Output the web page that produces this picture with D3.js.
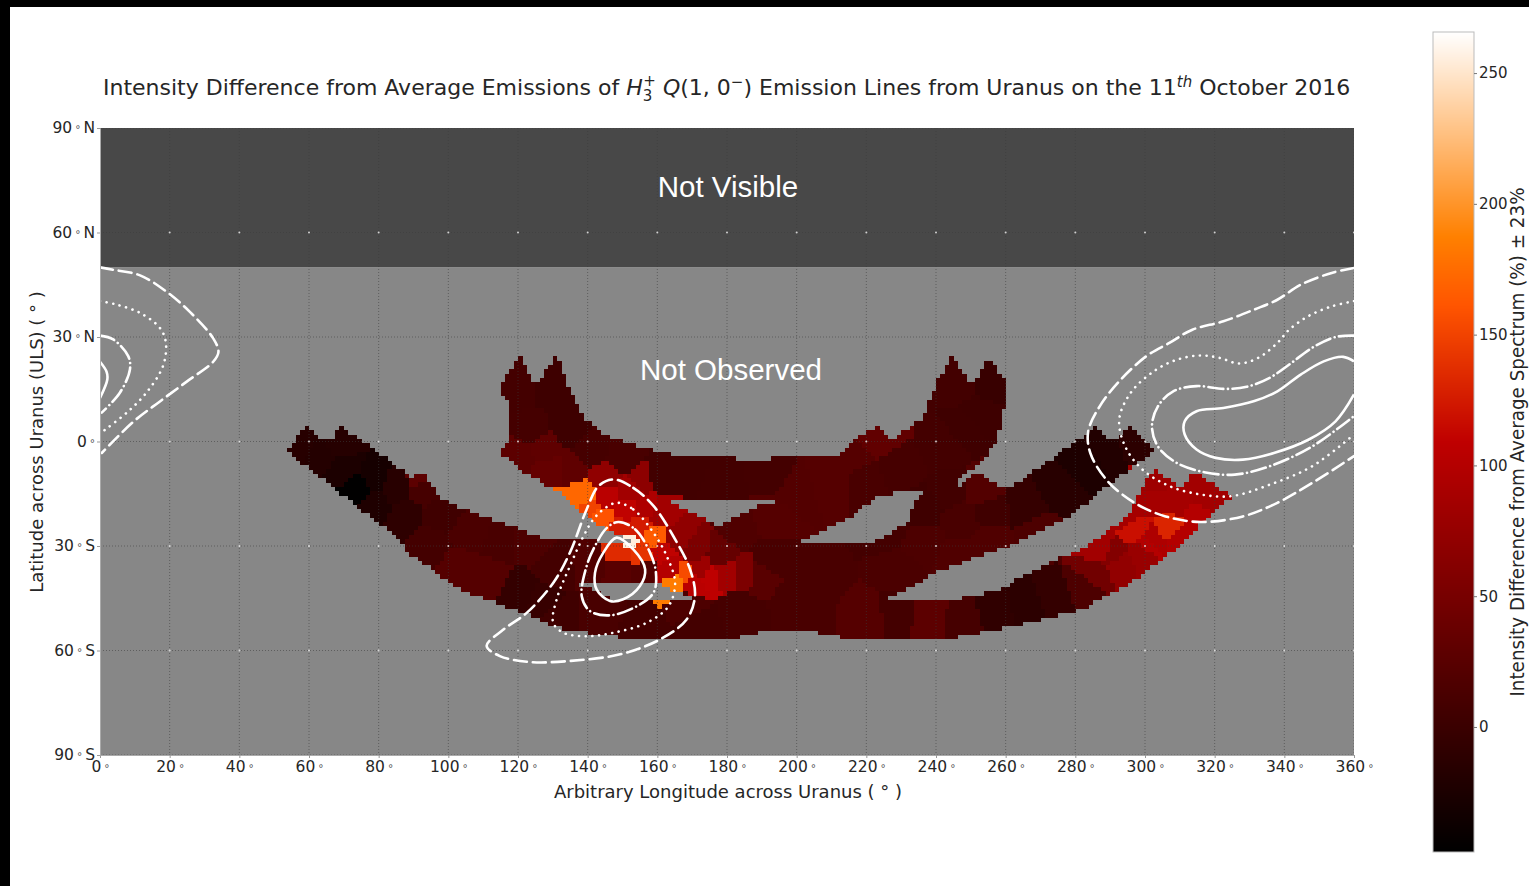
<!DOCTYPE html>
<html><head><meta charset="utf-8">
<script src="https://cdn.jsdelivr.net/npm/d3@7"></script>
<style>html,body{margin:0;padding:0;background:#fff;overflow:hidden}svg{display:block}</style>
</head><body><svg id="c" width="1529" height="886"></svg>
<script>
// ---------- data (longitude deg, latitude deg, value %) ----------
const lonTicks = d3.range(0, 361, 20);
const latTicks = [90, 60, 30, 0, -30, -60, -90];
const barTicks = [0, 50, 100, 150, 200, 250];
const valueDomain = [-47.8, 265.7];
const visibleLimit = 50;

const observedOutline = [[53.7,-2.9],[58.9,4.3],[63.7,.9],[66.6,.9],[68.9,4.3],[77.5,-1.4],[89.6,-10.3],[92.7,-8.6],[97.6,-16.7],[111.1,-21.8],[128.3,-28.1],[153,-29],[144.4,-24.7],[138.7,-20.4],[133.5,-15.8],[120.6,-8],[114.8,-2.9],[117.4,-.3],[116.9,12.6],[115.4,12.9],[115.4,16.9],[117.1,19.2],[120.6,24.7],[124.9,15.8],[131.2,24.7],[135.5,12.9],[139.2,6.3],[146.4,1.1],[163.6,-3.7],[179.4,-4.6],[189.5,-5.5],[195.5,-4.3],[211.7,-4.3],[216.7,.6],[223.4,4.3],[227,.6],[236,6.3],[241,18.7],[244.6,24.4],[250.3,15.8],[254.9,24.4],[260.3,16.4],[259.9,12.6],[257.6,.6],[253.7,-5.2],[246,-10.9],[247,-12.9],[251.7,-8.6],[258.3,-13.2],[261.6,-13.2],[281.6,1.1],[285.9,4.3],[289.2,.6],[291.9,.6],[296.1,4.3],[302.4,-2.9],[291.5,-10.9],[278.2,-21.5],[260.3,-30.1],[240.3,-37.3],[231.6,-42.5],[225.1,-45.4],[245,-45.4],[258.3,-42.5],[268.2,-36.8],[281.6,-31],[287.4,-27.3],[295.1,-21.5],[298.5,-14.6],[301.8,-8.9],[303.2,-8.6],[310.1,-13.2],[314.1,-8.6],[324.8,-15.8],[315.8,-23.3],[309.8,-30.1],[300.2,-37.3],[292.6,-42.5],[281.6,-48.2],[260.3,-53.4],[246,-56.3],[212.8,-56.3],[205.1,-54.5],[189.5,-54.5],[183.7,-56.3],[150.2,-56.3],[132.9,-54],[121.4,-49.1],[103.4,-42.5],[88.4,-31.9],[85.3,-27.3],[77.5,-21.5],[68,-13.8]];
const gapSlit = [[137,-40.8],[160.2,-40.8],[170.3,-44.8],[169.4,-45.4],[148,-45.4]];
const gapUpper = [[162.2,-16.4],[193.2,-16.4],[193.2,-18],[189.5,-18.3],[183.7,-20.9],[177.1,-24.4]];
const gapCentre = [[200.5,-29],[221.7,-29.3],[231.8,-23.3],[234.3,-16.7],[236.7,-13.8],[222.7,-15.5],[216.1,-21.5],[206.1,-26.1]];

const readings = [
[57.4,-.9,-16],[63.2,-3.7,-18],[68.9,-.9,-17],[70.3,-8,-25],[74.1,-12.9,-47],[78,-10.9,-30],[79,-18,-22],[84.7,-13.8,-15],[87.6,-21,-10],[93.3,-13.8,10],[92.7,-10.3,28],[97.6,-21,5],[94.7,-29.6,8],[106.2,-26.7,14],[103.4,-35.3,22],[112,-38.2,22],[114.8,-29.6,12],[123.5,-29.6,15],[120.6,-42.5,-5],[127.8,-45.4,-3],[130.6,-36.8,8],[140.7,-35.3,18],[132,-49.7,5],[143.6,-49.7,12],[149.3,-36.8,25],[156.5,-36.8,20],[155,-53.4,8],[172.3,-52.5,8],[169.4,-46.8,15],[183.7,-48.2,10],[199.5,-45.4,12],[192.9,-33.9,12],[206,-39.6,12],[202.8,-51.1,12],[219.4,-51.1,22],[229.5,-49.7,8],[237.7,-51.1,28],[247.6,-52.5,10],[257.6,-49.7,-8],[265.9,-48.2,-12],[274.3,-45.4,-5],[282.6,-42.5,15],[285.8,-38.2,45],[292.6,-35.3,72],[299.2,-32.4,78],[290.8,-32.4,60],[302.5,-28.1,95],[309.2,-28.1,100],
[306.8,-25.3,132],[297.5,-25.3,118],[300.9,-29.6,100],[287.6,-31,85],[309.2,-16.7,88],[302.5,-16.7,88],[317.5,-16.7,85],[302.4,-11,82],[314,-12.3,85],[295.1,-21,88],[315.8,-21,100],
[296,.6,-12],[289.2,-2.3,-20],[282.6,-6.6,-24],[275.8,-13.8,-15],[265.9,-19.5,-4],[255.9,-21,5],[252.6,-13.8,20],[247.6,-22.4,12],[255.9,-28,18],[236,-29.6,15],[229.5,-36.8,14],[246,-33.9,18],[269,-25.3,15],
[223.4,1.4,32],[216.1,-5.2,22],[209.4,-10.9,22],[199.5,-13.8,20],[192.9,-22.4,22],[183.7,-25.3,18],[219.4,-10.9,12],[229.5,-8,10],[242.6,-2.3,8],[244.3,-13.8,6],[236,-19.5,4],[226,-25.3,8],
[252.6,6.3,3],[246,17.8,7],[255.9,17.8,-2],[249.4,3.4,4],
[178,-10.9,7],[192.9,-9.5,8],[160.8,-9.5,6],[169.4,-8,6],
[120.6,14.9,8],[130.6,14.9,3],[123.5,3.4,9],[135,3.4,3],[140.7,-2.3,10],[150.8,-5.2,12],
[120.6,-3.7,28],[129.2,-8,35],[135,-8,30],[127.8,-2.3,30],
[135.5,-16.7,172],[138.7,-15.8,172],[143.6,-21.8,160],[140.7,-19.5,150],[145,-10.9,70],[145.6,-15.8,105],[152.2,-13.8,85],[155,-10.9,68],[150.8,-19.5,110],[155,-23.8,125],[159.4,-27.6,165],[156.5,-19.5,95],[160.8,-21,85],[149.6,-25.3,125],[150.7,-28.4,255],[149.3,-31.6,135],[155,-32.4,140],[161.4,-31.6,110],[166.5,-28.1,70],[170.8,-31,55],[163.6,-36.8,100],[168,-38.2,155],[165.1,-40.5,185],[170.8,-41,105],[175.1,-39,108],[179.4,-38.2,85],[185.2,-38.2,55],[178,-32.4,35],[189.5,-38.8,25],[172.3,-36.8,80]
];

const dashedNorthEast = [[360,49.8],[353.6,48.4],[344.7,45],[338,40.7],[331.4,37.9],[322.5,34.5],[313.6,32.1],[307,28.3],[300.4,24.5],[292.6,17.3],[287,10.1],[283.7,2.9],[284.3,-3.3],[289.3,-11.4],[297,-17.6],[305.9,-21.5],[315.9,-23.1],[328.1,-21.5],[338,-17.6],[348,-11.9],[360,-4.2]];
const dottedNorthEast = [[360,40.3],[353.6,38.8],[346.9,36],[341.4,32.1],[338,28.3],[332.5,24],[327,22.4],[321.4,24],[315.9,24.7],[309.2,23.5],[302.6,20.2],[295.9,14],[292.6,6.3],[294.3,-1.4],[299.2,-8],[307,-12.8],[315.9,-15.2],[324.7,-15.7],[335.8,-12.4],[348,-7.1],[360,2]];
const dashDotNorthEast = [[360,30.4],[354.7,30],[348,26.9],[341.4,22.1],[335.8,18.3],[329.2,15.7],[322.5,15.1],[314.8,15.9],[308.1,14.4],[303.7,10.1],[302,4.4],[303.7,-1.4],[309.2,-6.2],[317,-8.8],[325.8,-9.5],[335.8,-7.1],[348,-1.4],[360,7.3]];
const solidNorthEast = [[360,23],[356.9,24.3],[351.3,23],[344.7,19.2],[338,14.4],[331.4,11.6],[322.5,9.6],[314.8,8.7],[311.4,5.8],[311.4,2],[314.8,-2.3],[320.3,-4.7],[328.1,-5.2],[337,-3.3],[346.9,.5],[354.7,5.8],[360,13.5]];
const dashedNorthWest = [[0,50],[3.8,49.3],[11.5,47.7],[19.1,43],[25.8,37.2],[32.5,29.6],[34,25.7],[32.5,22.9],[24.9,17.2],[17.2,11.5],[9.6,5.7],[.5,-3.3]];
const dottedNorthWest = [[0,40.3],[4.8,39.3],[11.5,36.9],[17.2,32.6],[18.9,28.4],[18.1,21.7],[13.3,14],[7.7,8.3],[.96,3]];
const dashDotNorthWest = [[0,30.4],[3.8,29.3],[8.1,24.5],[8.6,20.7],[5.7,14],[.5,8.3]];
const solidNorthWest = [[0,22.9],[1.9,20],[2.1,17.8],[0,12.5]];
const dashedSouth = [[147.4,-10.9],[153.1,-13.3],[158.9,-18.5],[164.6,-27.2],[169.4,-36.7],[170.8,-44.4],[168.4,-51.1],[160.8,-56.8],[149.3,-61.1],[134.9,-63],[123.4,-63.3],[114.8,-61.6],[111,-58.7],[115.8,-54],[122.5,-49.2],[130.1,-40.6],[134.9,-31.9],[139.7,-19.5],[143.1,-12.8]];
const dottedSouth = [[148.3,-17.6],[153.1,-19.5],[158.9,-26.2],[162.7,-32.9],[165.1,-40.6],[163.2,-47.3],[157,-52],[147.4,-54.9],[139.7,-55.9],[133,-54.9],[130.1,-52],[131.1,-45.3],[134.9,-35.8],[138.8,-27.2],[141.6,-22.4],[144.5,-19.5]];
const dashDotSouth = [[148.8,-23.1],[153.6,-25.2],[157.9,-31.9],[159.6,-37.7],[158.9,-43.4],[154.1,-47.3],[146.4,-49.9],[140.7,-48.7],[138.3,-44.4],[139.7,-35.8],[142.1,-30],[145.5,-24.8]];
const solidSouth = [[148.3,-27.6],[153.1,-31],[156.5,-36.7],[155,-41.5],[150.2,-45.3],[146.4,-45.8],[142.6,-42.5],[142.1,-37.7],[144.5,-31.9]];

// ---------- drawing ----------
const svg = d3.select('#c');
const FONT = '"DejaVu Sans", sans-serif';
const x = d3.scaleLinear().domain([0, 360]).range([100, 1354]);
const y = d3.scaleLinear().domain([90, -90]).range([128, 755]);
const [vMin, vMax] = valueDomain, vSpan = vMax - vMin;
// gist_heat style ramp
const color = d3.scaleLinear()
  .domain([0, .5, 2/3, .75, 1].map(t => vMin + t * vSpan))
  .range(['#000000', '#bf0000', '#ff5500', '#ff8000', '#ffffff'])
  .clamp(true);

svg.append('rect').attr('width', 1529).attr('height', 7).attr('fill', '#000');
svg.append('rect').attr('width', 10).attr('height', 886).attr('fill', '#000');

svg.append('defs').append('clipPath').attr('id', 'plot').append('rect')
  .attr('x', x(0)).attr('y', y(90)).attr('width', x(360) - x(0)).attr('height', y(-90) - y(90));

svg.append('rect').attr('x', x(0)).attr('y', y(visibleLimit)).attr('width', x(360) - x(0)).attr('height', y(-90) - y(visibleLimit)).attr('fill', '#878787');
svg.append('rect').attr('x', x(0)).attr('y', y(90)).attr('width', x(360) - x(0)).attr('height', y(visibleLimit) - y(90)).attr('fill', '#484848');

// raster cells, nearest reading wins
const cell = 1.25;
const del = d3.Delaunay.from(readings, d => d[0], d => d[1]);
const cells = [];
let last = 0;
for (let lon = 50; lon < 330; lon += cell) for (let lat = 27; lat > -60; lat -= cell) {
  const p = [lon + cell / 2, lat - cell / 2];
  if (!d3.polygonContains(observedOutline, p)) continue;
  if (d3.polygonContains(gapSlit, p) || d3.polygonContains(gapUpper, p) || d3.polygonContains(gapCentre, p)) continue;
  last = del.find(p[0], p[1], last);
  cells.push({lon, lat, v: readings[last][2]});
}
svg.append('g').attr('shape-rendering', 'crispEdges').selectAll('rect').data(cells).join('rect')
  .attr('x', d => x(d.lon)).attr('y', d => y(d.lat))
  .attr('width', x(cell) - x(0) + .3).attr('height', y(0) - y(cell) + .3)
  .attr('fill', d => color(d.v));

// grid
const grid = svg.append('g').attr('clip-path', 'url(#plot)');
grid.selectAll('.gx').data(lonTicks).join('line').attr('class', 'gx').attr('x1', d => x(d)).attr('x2', d => x(d)).attr('y1', y(90)).attr('y2', y(-90));
grid.selectAll('.gy').data(latTicks).join('line').attr('class', 'gy').attr('x1', x(0)).attr('x2', x(360)).attr('y1', d => y(d)).attr('y2', d => y(d));
grid.selectAll('line').attr('stroke', '#3c3c3c').attr('stroke-opacity', .55).attr('stroke-width', 1).attr('stroke-dasharray', '1,2');
const crossings = lonTicks.flatMap(lon => [60, 0, -30, -60].map(lat => [lon, lat]));
grid.selectAll('circle').data(crossings).join('circle').attr('cx', d => x(d[0])).attr('cy', d => y(d[1])).attr('r', 1)
  .attr('fill', '#fff').attr('fill-opacity', .75);

// contours
const lineOpen = d3.line().x(d => x(d[0])).y(d => y(d[1])).curve(d3.curveCatmullRom);
const lineClosed = d3.line().x(d => x(d[0])).y(d => y(d[1])).curve(d3.curveCatmullRomClosed);
const styles = {dashed: '13,6', dotted: '.1,6.6', dashDot: '15,4.5,.1,4.5', solid: null};
const contours = [
  [dashedNorthEast, 'dashed', lineOpen], [dottedNorthEast, 'dotted', lineOpen], [dashDotNorthEast, 'dashDot', lineOpen], [solidNorthEast, 'solid', lineOpen],
  [dashedNorthWest, 'dashed', lineOpen], [dottedNorthWest, 'dotted', lineOpen], [dashDotNorthWest, 'dashDot', lineOpen], [solidNorthWest, 'solid', lineOpen],
  [dashedSouth, 'dashed', lineClosed], [dottedSouth, 'dotted', lineClosed], [dashDotSouth, 'dashDot', lineClosed], [solidSouth, 'solid', lineClosed]
];
svg.append('g').attr('clip-path', 'url(#plot)').selectAll('path').data(contours).join('path')
  .attr('d', d => d[2](d[0])).attr('fill', 'none').attr('stroke', '#fff').attr('stroke-width', 2.6)
  .attr('stroke-linecap', d => d[1] === 'solid' ? 'butt' : 'round')
  .attr('stroke-dasharray', d => styles[d[1]]);

// axes: number, small ring, optional hemisphere letter
const latLabel = d => d === 0 ? '0|' : `${Math.abs(d)}|${d > 0 ? 'N' : 'S'}`;
const gx = svg.append('g').attr('transform', `translate(0,${y(-90)})`).call(d3.axisBottom(x).tickValues(lonTicks).tickSize(3).tickPadding(3).tickFormat(d => `${d}|`));
const gy = svg.append('g').attr('transform', `translate(${x(0)},0)`).call(d3.axisLeft(y).tickValues(latTicks).tickSize(3).tickPadding(2).tickFormat(latLabel));
[gx, gy].forEach(g => {
  g.select('.domain').attr('stroke', '#aaa').attr('stroke-width', 1);
  g.selectAll('.tick line').attr('stroke', '#999');
  g.selectAll('text').attr('fill', '#262626').attr('font-family', FONT).attr('font-size', 15.5).each(function () {
    const [num, letter] = d3.select(this).text().split('|');
    const t = d3.select(this).text(num);
    t.append('tspan').attr('dx', 3).attr('font-size', 10.5).attr('fill', '#555').text('°');
    if (letter) t.append('tspan').attr('dx', 3).text(letter);
  });
});

// texts
const T = (tx, ty, s, size, anchor = 'middle', fam = FONT, fill = '#262626') =>
  svg.append('text').attr('x', tx).attr('y', ty).attr('font-family', fam).attr('font-size', size).attr('text-anchor', anchor).attr('fill', fill).text(s);
T(728, 798, 'Arbitrary Longitude across Uranus ( ° )', 18);
T(0, 0, 'Latitude across Uranus (ULS) ( ° )', 18).attr('transform', 'translate(43,442) rotate(-90)');
T(728, 197, 'Not Visible', 29.5, 'middle', '"Liberation Sans", sans-serif', '#fff');
T(731, 380, 'Not Observed', 29.5, 'middle', '"Liberation Sans", sans-serif', '#fff');

// title with math
const title = svg.append('text').attr('x', 103).attr('y', 95).attr('font-family', FONT).attr('font-size', 22).attr('fill', '#262626');
const ts = (s, o = {}) => { const t = title.append('tspan').text(s); Object.entries(o).forEach(([k, v]) => t.attr(k, v)); };
ts('Intensity Difference from Average Emissions of ');
ts('H', {'font-style': 'italic'});
ts('3', {'font-size': 15, dy: 6, 'font-style': 'normal'});
ts('+', {'font-size': 15, dy: -15, dx: -9});
ts(' ', {dy: 9});
ts('Q', {'font-style': 'italic'});
ts('(1, 0');
ts('−', {'font-size': 15, dy: -8});
ts(')', {dy: 8});
ts(' Emission Lines from Uranus on the 11');
ts('th', {'font-size': 15, 'font-style': 'italic', dy: -8});
ts(' October 2016', {dy: 8});

// colour bar
const bar = d3.scaleLinear().domain(valueDomain).range([852, 32]);
svg.append('g').attr('shape-rendering', 'crispEdges').selectAll('rect').data(d3.range(32, 852)).join('rect')
  .attr('x', 1433).attr('width', 41).attr('y', d => d).attr('height', 1.2).attr('fill', d => color(bar.invert(d + .5)));
svg.append('rect').attr('x', 1433).attr('y', 32).attr('width', 41).attr('height', 820).attr('fill', 'none').attr('stroke', '#bbb');
const gb = svg.append('g').attr('transform', 'translate(1474,0)').call(d3.axisRight(bar).tickValues(barTicks).tickSize(3).tickPadding(2));
gb.select('.domain').remove();
gb.selectAll('.tick line').attr('stroke', '#777');
gb.selectAll('text').attr('fill', '#262626').attr('font-family', FONT).attr('font-size', 15);
T(0, 0, 'Intensity Difference from Average Spectrum (%) ± 23%', 19.5)
  .attr('transform', 'translate(1524,442) rotate(-90) scale(.94,1)');
</script></body></html>
